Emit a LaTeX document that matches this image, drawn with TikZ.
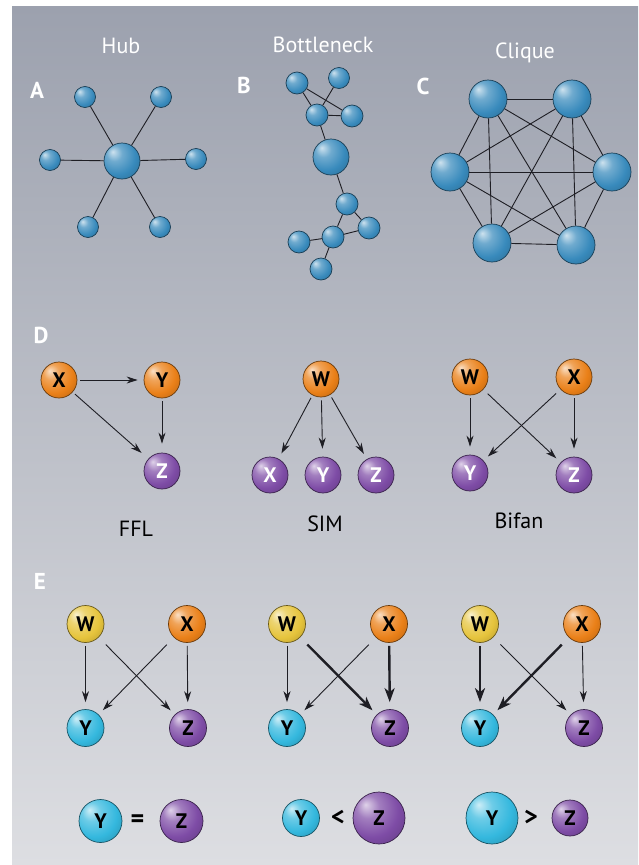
\documentclass[tikz,border=0pt]{standalone}
\usepackage{fontspec}
\setmainfont{PT Sans}
\setsansfont{PT Sans}
\usetikzlibrary{arrows.meta}
\definecolor{netblue}{RGB}{56,138,188}
\definecolor{orn}{RGB}{234,128,24}
\definecolor{pur}{RGB}{126,76,166}
\definecolor{yel}{RGB}{230,196,60}
\definecolor{cya}{RGB}{52,184,222}
\definecolor{edg}{RGB}{30,30,36}
\definecolor{bgtop}{RGB}{156,161,174}
\definecolor{bgbot}{RGB}{221,222,226}
\colorlet{sphc}{netblue}
\pgfdeclareradialshading[sphc]{sphere}{\pgfqpoint{-13bp}{13bp}}{%
 color(0bp)=(sphc!25!white); color(11bp)=(sphc!72!white); color(26bp)=(sphc);
 color(40bp)=(sphc!80!black); color(62bp)=(sphc!45!black)}
\tikzset{
 sphcolset/.code={\colorlet{sphc}{#1}},
 sph/.style={circle, inner sep=0pt, draw=#1!45!black, line width=0.7pt,
   shading=sphere, sphcolset=#1},
 net/.style={sph=netblue, minimum size=#1},
 link/.style={draw=edg, line width=0.9pt},
 lt/.style={font=\sffamily\bfseries\fontsize{21}{21}\selectfont},
 ltw/.style={lt, text=white},
 ttl/.style={font=\sffamily\fontsize{22}{22}\selectfont, anchor=base},
 pan/.style={font=\sffamily\bfseries\fontsize{23}{23}\selectfont, text=white, anchor=base},
 arr/.style={draw=edg, line width=0.9pt, -{Stealth[length=11pt,width=7pt,inset=3.5pt]},
   shorten >=6pt, shorten <=3pt},
 tarr/.style={arr, line width=2.4pt, -{Stealth[length=14pt,width=10pt,inset=4pt]}},
 rel/.style={font=\sffamily\bfseries\fontsize{26}{26}\selectfont},
}
\begin{document}
\begin{tikzpicture}[x=1pt,y=-1pt]
\useasboundingbox (0,0) rectangle (638,865);
\fill[white] (0,0) rectangle (638,865);
\shade[top color=bgtop, bottom color=bgbot] (12,6) rectangle (638,865);

% titles
\node[ttl, text=white] (tHub) at (121,53) {Hub};
\node[ttl, text=white] (tBot) at (323,52) {Bottleneck};
\node[ttl, text=white] (tCli) at (525,58) {Clique};
\node[pan] (lA) at (37,98) {A};
\node[pan] (lB) at (244,93) {B};
\node[pan] (lC) at (423,94) {C};

% Hub
\node[net=36pt] (h0) at (122,161) {};
\node[net=21pt] (h1) at (85,97) {};
\node[net=21pt] (h2) at (161,97) {};
\node[net=21pt] (h3) at (50,160) {};
\node[net=21pt] (h4) at (196,159) {};
\node[net=21pt] (h5) at (88,227) {};
\node[net=21pt] (h6) at (160,227) {};
\foreach \i in {1,...,6} \draw[link] (h0) -- (h\i);

% Bottleneck
\node[net=22pt] (b1) at (297,83) {};
\node[net=21pt] (b2) at (339,78) {};
\node[net=22pt] (b3) at (317,115) {};
\node[net=22pt] (b4) at (352,116) {};
\node[net=36pt] (b5) at (331,157) {};
\node[net=22pt] (b6) at (347,204) {};
\node[net=22pt] (b7) at (369,228) {};
\node[net=22pt] (b8) at (333,237) {};
\node[net=22pt] (b9) at (299,242) {};
\node[net=22pt] (b10) at (321,269) {};
\draw[link] (b1) -- (b4);
\draw[link] (b1) -- (b3);
\draw[link] (b2) -- (b3);
\draw[link] (b3) -- (b4);
\draw[link] (b3) -- (b5);
\draw[link] (b5) -- (b6);
\draw[link] (b6) -- (b7);
\draw[link] (b6) -- (b8);
\draw[link] (b8) -- (b7);
\draw[link] (b8) -- (b9);
\draw[link] (b8) -- (b10);

% Clique
\node[net=38pt] (c1) at (488,99) {};
\node[net=38pt] (c2) at (572,99) {};
\node[net=38pt] (c3) at (450,172) {};
\node[net=38pt] (c4) at (612,172) {};
\node[net=38pt] (c5) at (492,243) {};
\node[net=38pt] (c6) at (576,245) {};
\foreach \a/\b in {1/2,1/3,1/4,1/5,1/6,2/3,2/4,2/5,2/6,3/4,3/5,3/6,4/5,4/6,5/6}
  \draw[link] (c\a) -- (c\b);

% D
\node[pan] (lD) at (41,343) {D};
\node[sph=orn, minimum size=36pt, lt] (dx) at (59,380) {X};
\node[sph=orn, minimum size=36pt, lt] (dy) at (162,380) {Y};
\node[sph=pur, minimum size=36pt, ltw] (dz) at (162,471) {Z};
\draw[arr] (dx) -- (dy);
\draw[arr, shorten >=9pt] (dx) -- (dz);
\draw[arr, shorten >=9pt] (dy) -- (dz);
\node[ttl] (tFFL) at (136,536) {FFL};

\node[sph=orn, minimum size=36pt, lt] (sw) at (321,379) {W};
\node[sph=pur, minimum size=36pt, ltw] (sx) at (270,475) {X};
\node[sph=pur, minimum size=36pt, ltw] (sy) at (323,475) {Y};
\node[sph=pur, minimum size=36pt, ltw] (sz) at (376,475) {Z};
\draw[arr, shorten >=6pt] (sw) -- (sx);
\draw[arr, shorten >=8pt] (sw) -- (sy);
\draw[arr, shorten >=6pt] (sw) -- (sz);
\node[ttl] (tSIM) at (325,531) {SIM};

\node[sph=orn, minimum size=36pt, lt] (fw) at (470,377) {W};
\node[sph=orn, minimum size=36pt, lt] (fx) at (574,377) {X};
\node[sph=pur, minimum size=36pt, ltw] (fy) at (470,473) {Y};
\node[sph=pur, minimum size=36pt, ltw] (fz) at (574,475) {Z};
\draw[arr, shorten >=8pt] (fw) -- (fy);
\draw[arr, shorten >=8pt] (fx) -- (fz);
\draw[arr, shorten <=6pt] (fw) -- (fz);
\draw[arr, shorten <=6pt] (fx) -- (fy);
\node[ttl] (tBif) at (519,528) {Bifan};

% E
\node[pan] (lE) at (40,589) {E};
% panel 1
\node[sph=yel, minimum size=37pt, lt] (ew1) at (85.5,624) {W};
\node[sph=orn, minimum size=37pt, lt] (ex1) at (187,624) {X};
\node[sph=cya, minimum size=37pt, lt] (ey1) at (85.5,728) {Y};
\node[sph=pur, minimum size=37pt, lt] (ez1) at (188,728) {Z};
\draw[arr, shorten >=7pt] (ew1) -- (ey1);
\draw[arr, shorten >=7pt] (ex1) -- (ez1);
\draw[arr, shorten <=10pt] (ew1) -- (ez1);
\draw[arr, shorten <=10pt] (ex1) -- (ey1);
% panel 2
\node[sph=yel, minimum size=37pt, lt] (ew2) at (287,624) {W};
\node[sph=orn, minimum size=37pt, lt] (ex2) at (389,624) {X};
\node[sph=cya, minimum size=37pt, lt] (ey2) at (287,728) {Y};
\node[sph=pur, minimum size=37pt, lt] (ez2) at (390,728) {Z};
\draw[arr, shorten >=7pt] (ew2) -- (ey2);
\draw[tarr, shorten >=7pt] (ex2) -- (ez2);
\draw[tarr, shorten <=10pt] (ew2) -- (ez2);
\draw[arr, shorten <=10pt] (ex2) -- (ey2);
% panel 3
\node[sph=yel, minimum size=37pt, lt] (ew3) at (480,624) {W};
\node[sph=orn, minimum size=37pt, lt] (ex3) at (582,624) {X};
\node[sph=cya, minimum size=37pt, lt] (ey3) at (480,728) {Y};
\node[sph=pur, minimum size=37pt, lt] (ez3) at (584,728) {Z};
\draw[tarr, shorten >=7pt] (ew3) -- (ey3);
\draw[arr, shorten >=7pt] (ex3) -- (ez3);
\draw[arr, shorten <=10pt] (ew3) -- (ez3);
\draw[tarr, shorten <=10pt] (ex3) -- (ey3);

% bottom comparisons
\node[sph=cya, minimum size=43pt, lt] (cy1) at (100.5,821) {Y};
\node[rel] (eq) at (137.5,821) {=};
\node[sph=pur, minimum size=43pt, lt] (cz1) at (181.5,821) {Z};

\node[sph=cya, minimum size=37pt, lt] (cy2) at (301,818) {Y};
\node[rel] (lt2) at (338,818) {<};
\node[sph=pur, minimum size=52pt, lt] (cz2) at (379,818) {Z};

\node[sph=cya, minimum size=52pt, lt] (cy3) at (492,818) {Y};
\node[rel] (gt3) at (531,818) {>};
\node[sph=pur, minimum size=36pt, lt] (cz3) at (570,818) {Z};
\end{tikzpicture}
\end{document}
